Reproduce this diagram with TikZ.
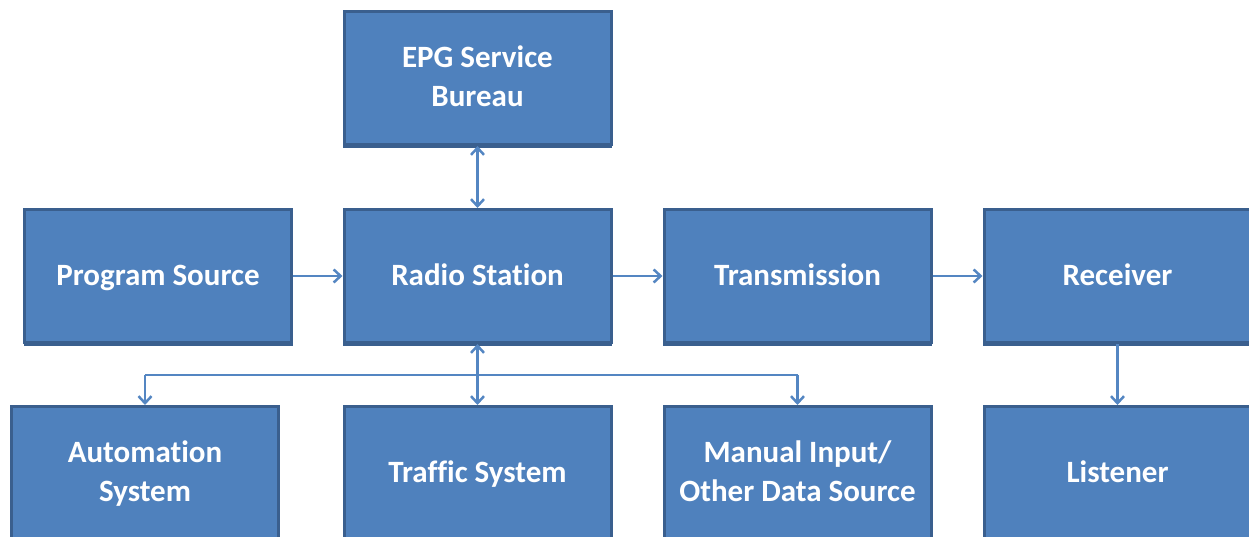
\documentclass[tikz,border=0pt]{standalone}
\usepackage{fontspec}
\setmainfont[RawFeature={-liga;-dlig;-clig}]{Carlito}
\usetikzlibrary{arrows.meta}
\definecolor{boxfill}{HTML}{4F81BD}
\definecolor{boxline}{HTML}{3A5F8E}
\definecolor{arrowc}{HTML}{5486C2}
\tikzset{
  blk/.style={draw=boxline, fill=boxfill, line width=3pt, minimum width=267pt, minimum height=133pt,
    inner sep=0pt, align=center, text=white, text height=24pt, text depth=6pt,
    font=\bfseries\fontsize{31}{38.5}\selectfont},
  blktwo/.style={blk, text height=62.5pt},
  conn/.style={draw=arrowc, line width=2.5pt},
  tip/.style={-{Straight Barb[length=7pt,width=13pt,line width=2.5pt]}},
  dtip/.style={{Straight Barb[length=7pt,width=13pt,line width=2.5pt]}-{Straight Barb[length=7pt,width=13pt,line width=2.5pt]}}
}
\begin{document}
\begin{tikzpicture}[x=1pt,y=-1pt]
\useasboundingbox (0,0) rectangle (1249,537);
\clip (0,0) rectangle (1249,537);
% shadows
\foreach \cx/\cy in {477.5/78,158/276,477.5/276,797.5/276,1117.5/276,145/473,477.5/473,797.5/473,1117.5/473}{
  \fill[boxline] (\cx-134.5,\cy-66.5) rectangle (\cx+134.5,\cy+70);
}
\node[blktwo] (epg) at (477.5,78) {EPG Service\\Bureau};
\node[blk] (ps) at (158,276) {Program Source};
\node[blk] (rs) at (477.5,276) {Radio Station};
\node[blk] (tr) at (797.5,276) {Transmission};
\node[blk] (rc) at (1117.5,276) {Receiver};
\node[blktwo] (au) at (145,473) {Automation\\System};
\node[blk] (ts) at (477.5,473) {Traffic System};
\node[blktwo] (mi) at (797.5,473) {Manual Input/\\Other Data Source};
\node[blk] (li) at (1117.5,473) {Listener};
\coordinate (busL) at (145,375);
\coordinate (busR) at (797.5,375);
\draw[conn,tip] (ps.east) -- (rs.west);
\draw[conn,tip] (rs.east) -- (tr.west);
\draw[conn,tip] (tr.east) -- (rc.west);
\draw[conn,dtip] (epg.south) -- (rs.north);
\draw[conn,dtip] (rs.south) -- (ts.north);
\draw[conn] (busL) -- (busR);
\draw[conn,tip] (busL) -- (au.north);
\draw[conn,tip] (busR) -- (mi.north);
\draw[conn,tip] (rc.south) -- (li.north);
\end{tikzpicture}
\end{document}
